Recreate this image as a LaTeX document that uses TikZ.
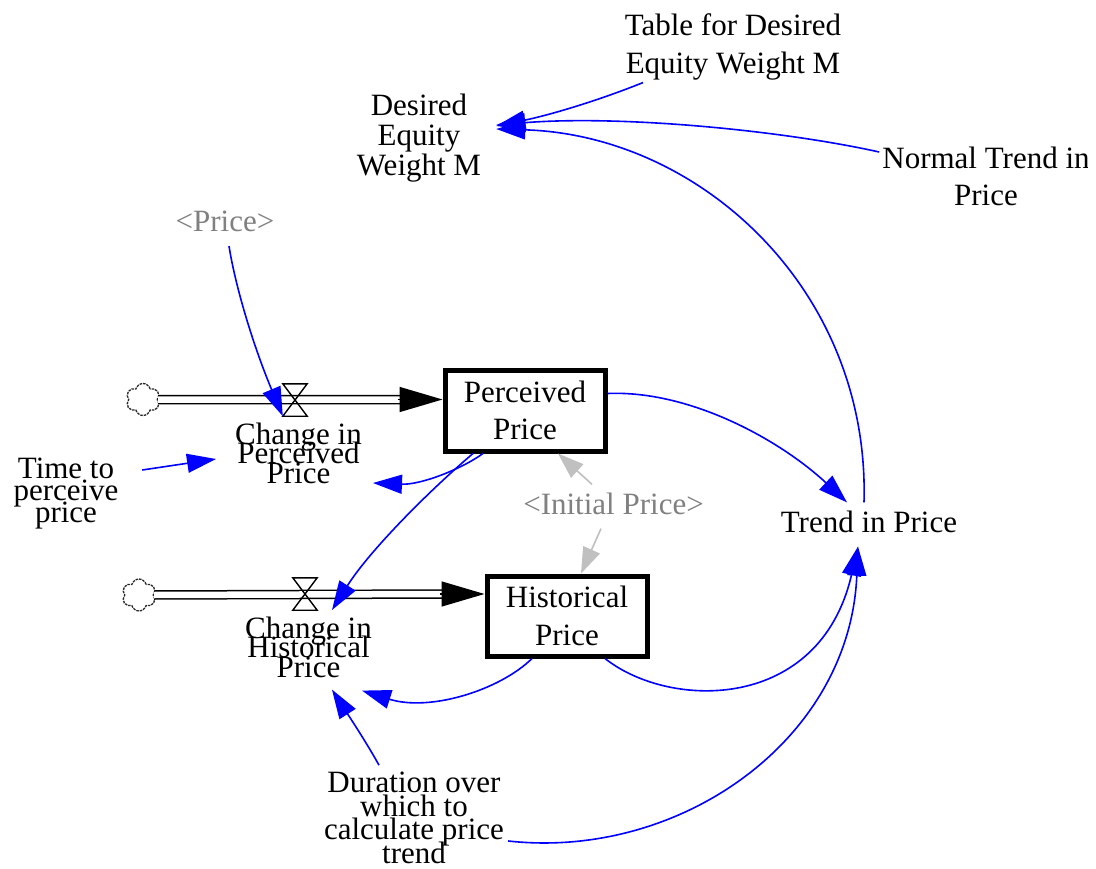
\documentclass[tikz,border=0pt]{standalone}
\usepackage{fontspec}
\setmainfont{Liberation Serif}
\usetikzlibrary{arrows.meta,shapes.symbols}
\lineskiplimit=-100pt
\definecolor{lnkblue}{RGB}{0,0,255}
\definecolor{shadowtxt}{RGB}{128,128,128}
\definecolor{shadowln}{RGB}{192,192,192}
\begin{document}
\begin{tikzpicture}[x=1pt,y=-1pt,
  txt/.style={inner sep=0pt, align=center, font=\fontsize{31}{38}\selectfont},
  shadowtext/.style={txt, text=shadowtxt},
  stock/.style={draw, line width=5pt, minimum width=160pt, minimum height=81pt, inner sep=0pt, align=center, font=\fontsize{31}{37.7}\selectfont},
  valvebox/.style={minimum width=24pt, minimum height=32pt, inner sep=0pt},
  valveline/.style={line width=1.4pt, line join=miter},
  cloudbox/.style={cloud, cloud puffs=6, aspect=1, minimum width=34pt, minimum height=32pt, inner sep=0pt, draw=black!85, line width=1.3pt, dash pattern=on 2.5pt off 1pt},
  pipe/.style={draw, double, double distance=6.5pt, line width=1.5pt},
  flowhead/.style={line width=1.5pt, -{Triangle[length=43pt,width=25pt]}},
  link/.style={draw=lnkblue, line width=1.6pt, -{Triangle[length=29pt,width=19pt]}},
  shadowlink/.style={draw=shadowln, line width=1.6pt, -{Triangle[length=26pt,width=18pt]}}
]
\useasboundingbox[fill=white] (0,0) rectangle (1096,869);

% stocks
\node[stock] (pp) at (525,410.5) {Perceived\\Price};
\node[stock, minimum height=80pt] (hp) at (567,616) {Historical\\Price};

% clouds and valves
\node[cloudbox] (cl1) at (143,399.5) {};
\node[cloudbox] (cl2) at (139,595) {};
\node[valvebox] (v1) at (295,400) {};
\node[valvebox] (v2) at (305,594) {};

% pipes
\draw[pipe] (cl1.east) -- ([xshift=-41pt,yshift=11pt]pp.west);
\draw[flowhead] ([xshift=-45pt,yshift=11pt]pp.west) -- ([yshift=11pt]pp.west);
\draw[pipe] (cl2.east) -- ([xshift=-41pt,yshift=22pt]hp.west);
\draw[flowhead] ([xshift=-45pt,yshift=22pt]hp.west) -- ([yshift=22pt]hp.west);
\draw[valveline] (v1.north west) -- (v1.north east) -- (v1.south west) -- (v1.south east) -- cycle;
\draw[valveline] (v2.north west) -- (v2.north east) -- (v2.south west) -- (v2.south east) -- cycle;

% labels
\node[txt, font=\fontsize{31}{19.5}\selectfont] (cpp) at (298.5,453) {Change in\\Perceived\\Price};
\node[txt, font=\fontsize{31}{19.5}\selectfont] (chp) at (308.5,647) {Change in\\Historical\\Price};
\node[txt, font=\fontsize{31}{22}\selectfont] (tpp) at (66,494) {Time to\\perceive\\price};
\node[txt, font=\fontsize{31}{23.5}\selectfont] (dur) at (414,818) {Duration over\\which to\\calculate price\\trend};
\node[txt, font=\fontsize{31}{30}\selectfont] (dew) at (419,138) {Desired\\Equity\\Weight M};
\node[txt] (tab) at (733,46.5) {Table for Desired\\Equity Weight M};
\begin{scope}
\clip (0,0) rectangle (1087,869);
\node[txt, font=\fontsize{31}{37}\selectfont] (ntp) at (986,176) {Normal Trend in\\Price};
\end{scope}
\node[txt] (trp) at (869,521.5) {Trend in Price};
\node[shadowtext] (spr) at (225,221.5) {<Price>};
\node[shadowtext] (sip) at (613.5,503.5) {<Initial Price>};

% links
\draw[link] ([xshift=4pt,yshift=-14pt]spr.south) .. controls (236,290) and (255,350) .. (v1.south west);
\draw[link] ([xshift=23.5pt,yshift=24pt]tpp.east) -- ([xshift=-19pt,yshift=-6pt]cpp.west);
\draw[link] ([xshift=-42pt]pp.south) .. controls (460,470) and (420,485) .. ([xshift=11pt,yshift=-30pt]cpp.east);
\draw[link] ([xshift=-52pt]pp.south) .. controls (430,490) and (370,550) .. ([xshift=27pt,yshift=-16pt]v2.center);
\draw[link] ([yshift=17pt]pp.east) .. controls (690,390) and (780,440) .. ([xshift=-22pt,yshift=8pt]trp.north);
\draw[link] ([xshift=-5pt,yshift=8pt]trp.north) .. controls (870,290) and (700,135) .. ([xshift=15pt,yshift=9pt]dew.east);
\draw[link] ([xshift=-3pt,yshift=24pt]ntp.west) .. controls (780,130) and (620,115) .. ([xshift=15pt,yshift=13pt]dew.east);
\draw[link] ([xshift=-90pt,yshift=-2.6pt]tab.south) .. controls (600,100) and (550,115) .. ([xshift=15pt,yshift=12pt]dew.east);
\draw[link] ([xshift=-35pt]hp.south) .. controls (500,690) and (430,712) .. ([xshift=53.5pt,yshift=-13pt]chp.south);
\draw[link] ([xshift=38pt]hp.south) .. controls (670,710) and (820,712) .. ([xshift=-11pt,yshift=-14pt]trp.south);
\draw[link] ([xshift=-35pt,yshift=7pt]dur.north) .. controls (365,740) and (345,710) .. ([xshift=23.5pt,yshift=-12pt]chp.south);
\draw[link] ([xshift=4pt,yshift=-23pt]dur.east) .. controls (680,860) and (850,740) .. ([xshift=-11pt,yshift=-14pt]trp.south);
\draw[shadowlink] ([xshift=-21.5pt,yshift=8pt]sip.north) -- ([xshift=33pt]pp.south);
\draw[shadowlink] ([xshift=-12.5pt,yshift=-14pt]sip.south) -- ([xshift=14pt]hp.north);
\end{tikzpicture}
\end{document}
